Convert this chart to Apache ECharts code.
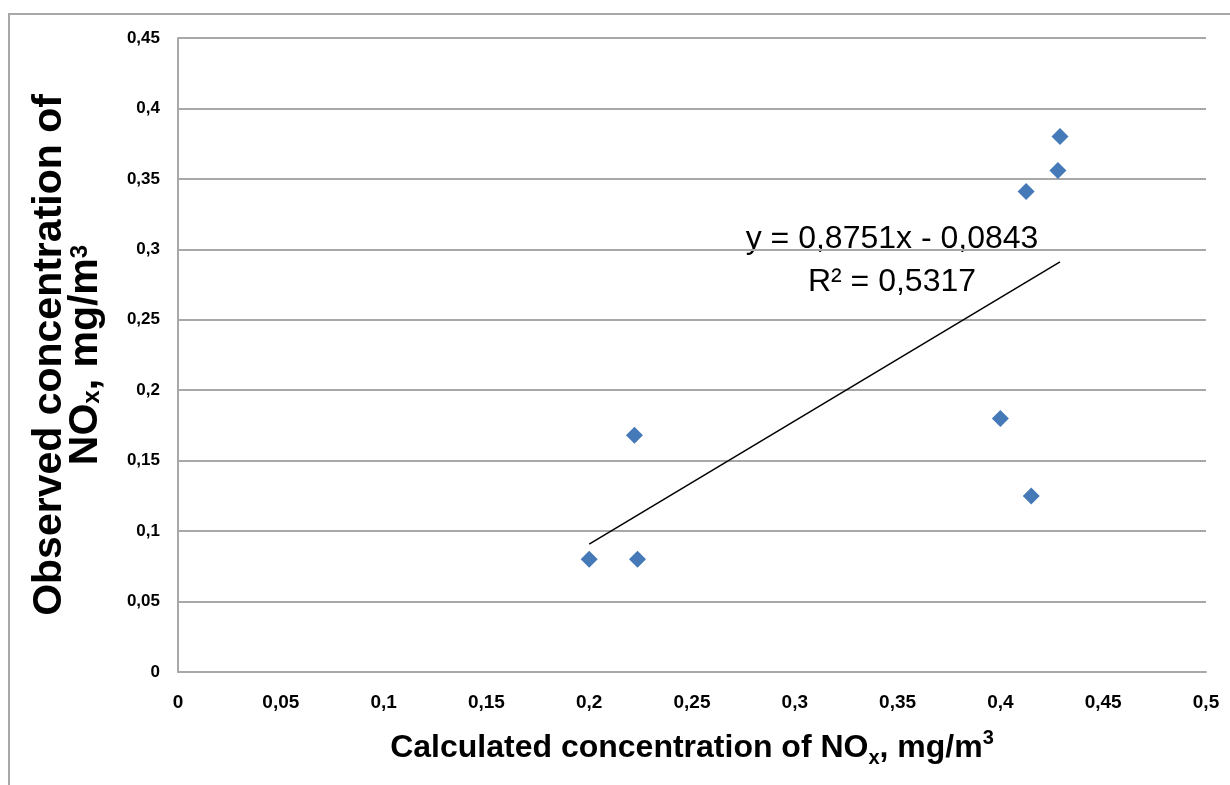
<!DOCTYPE html>
<html>
<head>
<meta charset="utf-8">
<script src="https://cdn.jsdelivr.net/npm/echarts@6/dist/echarts.min.js"></script>
<style>
  html, body { margin: 0; padding: 0; background: #fff; }
  #chart { width: 1230px; height: 785px; }
</style>
</head>
<body>
<div id="chart"></div>
<script>
// calculated vs observed NOx, mg/m3
const calcX = [0.2, 0.222, 0.2235, 0.4, 0.415, 0.4125, 0.428, 0.429]
const obsY = [0.08, 0.168, 0.08, 0.18, 0.125, 0.341, 0.356, 0.38]

// linear trend as printed on the chart
const trendSlope = 0.8751
const trendIntercept = -0.0843
const trendLabel = ['y = 0,8751x - 0,0843', 'R² = 0,5317']

const points = calcX.map((x, i) => [x, obsY[i]])
const xMin = Math.min(...calcX)
const xMax = Math.max(...calcX)
const trendLine = [xMin, xMax].map(x => [x, trendSlope * x + trendIntercept])

const gridColor = '#a8a8a8'
const comma = v => String(+v.toFixed(2)).replace('.', ',')

const chart = echarts.init(document.getElementById('chart'))

chart.setOption({
  animation: false,
  backgroundColor: '#fff',
  grid: { left: 178, right: 24, top: 38, bottom: 113 },
  xAxis: {
    type: 'value',
    min: 0,
    max: 0.5,
    interval: 0.05,
    name: 'Calculated concentration of NO{sub|x}, mg/m{sup|3}',
    nameLocation: 'middle',
    nameGap: 56,
    nameTextStyle: {
      fontFamily: 'Liberation Sans',
      fontWeight: 'bold',
      fontSize: 32,
      color: '#000',
      lineHeight: 40,
      rich: {
        sub: { fontFamily: 'Liberation Sans', fontWeight: 'bold', fontSize: 20, lineHeight: 20, verticalAlign: 'bottom', color: '#000' },
        sup: { fontFamily: 'Liberation Sans', fontWeight: 'bold', fontSize: 20, lineHeight: 20, verticalAlign: 'top', color: '#000' }
      }
    },
    axisLine: { show: true, lineStyle: { color: gridColor, width: 2 } },
    axisTick: { show: false },
    splitLine: { show: false },
    axisLabel: {
      margin: 21,
      formatter: comma,
      fontFamily: 'Liberation Sans',
      fontWeight: 'bold',
      fontSize: 19,
      color: '#000'
    }
  },
  yAxis: {
    type: 'value',
    min: 0,
    max: 0.45,
    interval: 0.05,
    name: 'Observed concentration of\nNO{sub|x}, mg/m{sup|3}',
    nameLocation: 'middle',
    nameRotate: 90,
    nameGap: 74,
    nameTextStyle: {
      fontFamily: 'Liberation Sans',
      fontWeight: 'bold',
      fontSize: 41,
      color: '#000',
      lineHeight: 36,
      align: 'center',
      rich: {
        sub: { fontFamily: 'Liberation Sans', fontWeight: 'bold', fontSize: 24, lineHeight: 22, verticalAlign: 'bottom', color: '#000' },
        sup: { fontFamily: 'Liberation Sans', fontWeight: 'bold', fontSize: 24, lineHeight: 22, verticalAlign: 'top', color: '#000' }
      }
    },
    axisLine: { show: true, lineStyle: { color: gridColor, width: 2 } },
    axisTick: { show: false },
    splitLine: { show: true, lineStyle: { color: gridColor, width: 2 } },
    axisLabel: {
      margin: 18,
      formatter: comma,
      fontFamily: 'Liberation Sans',
      fontWeight: 'bold',
      fontSize: 17,
      color: '#000'
    }
  },
  graphic: [
    {
      type: 'rect',
      z: -10,
      silent: true,
      shape: { x: 9, y: 14, width: 1300, height: 900 },
      style: { fill: 'none', stroke: '#a8a8a8', lineWidth: 2 }
    },
    {
      type: 'text',
      x: 892,
      y: 239,
      style: {
        text: trendLabel[0],
        font: '32px "Liberation Sans"',
        fill: '#000',
        align: 'center',
        verticalAlign: 'middle'
      }
    },
    {
      type: 'text',
      x: 892,
      y: 282,
      style: {
        text: trendLabel[1],
        font: '32px "Liberation Sans"',
        fill: '#000',
        align: 'center',
        verticalAlign: 'middle'
      }
    }
  ],
  series: [
    {
      type: 'line',
      data: trendLine,
      symbol: 'none',
      lineStyle: { color: '#000', width: 1.5 },
      z: 2
    },
    {
      type: 'scatter',
      data: points,
      symbol: 'diamond',
      symbolSize: 17,
      itemStyle: { color: '#4579b8', opacity: 1 },
      z: 3
    }
  ]
})
</script>
</body>
</html>
